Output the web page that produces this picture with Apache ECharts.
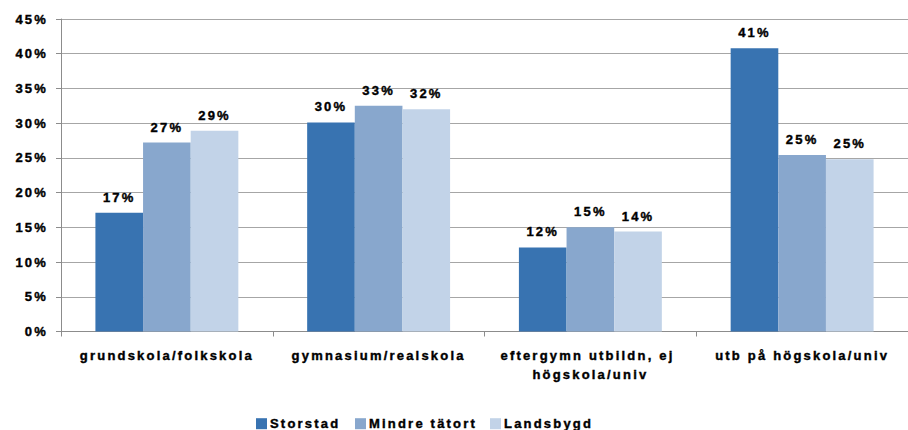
<!DOCTYPE html>
<html>
<head>
<meta charset="utf-8">
<script src="https://cdn.jsdelivr.net/npm/echarts@6/dist/echarts.min.js"></script>
<style>
  html, body { margin: 0; padding: 0; background: #fff; }
  #chart { width: 908px; height: 430px; }
  #chart text { letter-spacing: 2.2px; }
</style>
</head>
<body>
<div id="chart"></div>
<script>
const categories = ['grundskola/folkskola', 'gymnasium/realskola', 'eftergymn utbildn, ej högskola/univ', 'utb på högskola/univ'];
const seriesNames = ['Storstad', 'Mindre tätort', 'Landsbygd'];
const storstad = [17.1, 30.1, 12.1, 40.8];
const mindreTatort = [27.2, 32.5, 15.0, 25.4];
const landsbygd = [28.9, 32.0, 14.4, 24.8];
const yTicks = [0, 5, 10, 15, 20, 25, 30, 35, 40, 45];

const colors = ['#3873b1', '#88a7cd', '#c2d3e8'];
const font = "'Liberation Sans', Arial, sans-serif";
const values = [storstad, mindreTatort, landsbygd];

const chart = echarts.init(document.getElementById('chart'), null, { renderer: 'svg' });

const legendLefts = [256, 355, 490];
const txt = {
  fontFamily: font,
  fontWeight: 'bold',
  fontSize: 13,
  color: '#000',
  textBorderColor: '#000',
  textBorderWidth: 0.4
};

chart.setOption({
  animation: false,
  backgroundColor: '#ffffff',
  grid: { left: 61, right: -12, top: 19, bottom: 98.5, containLabel: false },
  legend: seriesNames.map((n, i) => ({
    data: [n],
    left: legendLefts[i],
    top: 417,
    padding: 0,
    itemWidth: 11,
    itemHeight: 11,
    icon: 'rect',
    textStyle: Object.assign({}, txt, { padding: [0, 0, 0, -2] })
  })),
  xAxis: {
    type: 'category',
    data: categories,
    axisLine: { lineStyle: { color: '#8c8c8c', width: 1 } },
    axisTick: { show: true, alignWithLabel: false, length: 5, lineStyle: { color: '#8c8c8c' } },
    axisLabel: Object.assign({}, txt, {
      interval: 0,
      margin: 14,
      lineHeight: 19,
      width: 165,
      overflow: 'break',
      align: 'center'
    })
  },
  yAxis: {
    type: 'value',
    min: yTicks[0],
    max: yTicks[yTicks.length - 1],
    interval: yTicks[1] - yTicks[0],
    axisLine: { show: true, lineStyle: { color: '#8c8c8c', width: 1 } },
    axisTick: { show: true, length: 5, lineStyle: { color: '#8c8c8c' } },
    splitLine: { show: true, lineStyle: { color: '#a6a6a6', width: 1 } },
    axisLabel: Object.assign({}, txt, {
      margin: 13,
      formatter: '{value}%'
    })
  },
  series: seriesNames.map((n, i) => ({
    name: n,
    type: 'bar',
    data: values[i],
    barGap: '0%',
    barCategoryGap: '32.5%',
    itemStyle: { color: colors[i] },
    label: Object.assign({}, txt, {
      show: true,
      position: 'top',
      distance: 9,
      formatter: p => Math.round(p.value) + '%'
    })
  }))
});
</script>
</body>
</html>
